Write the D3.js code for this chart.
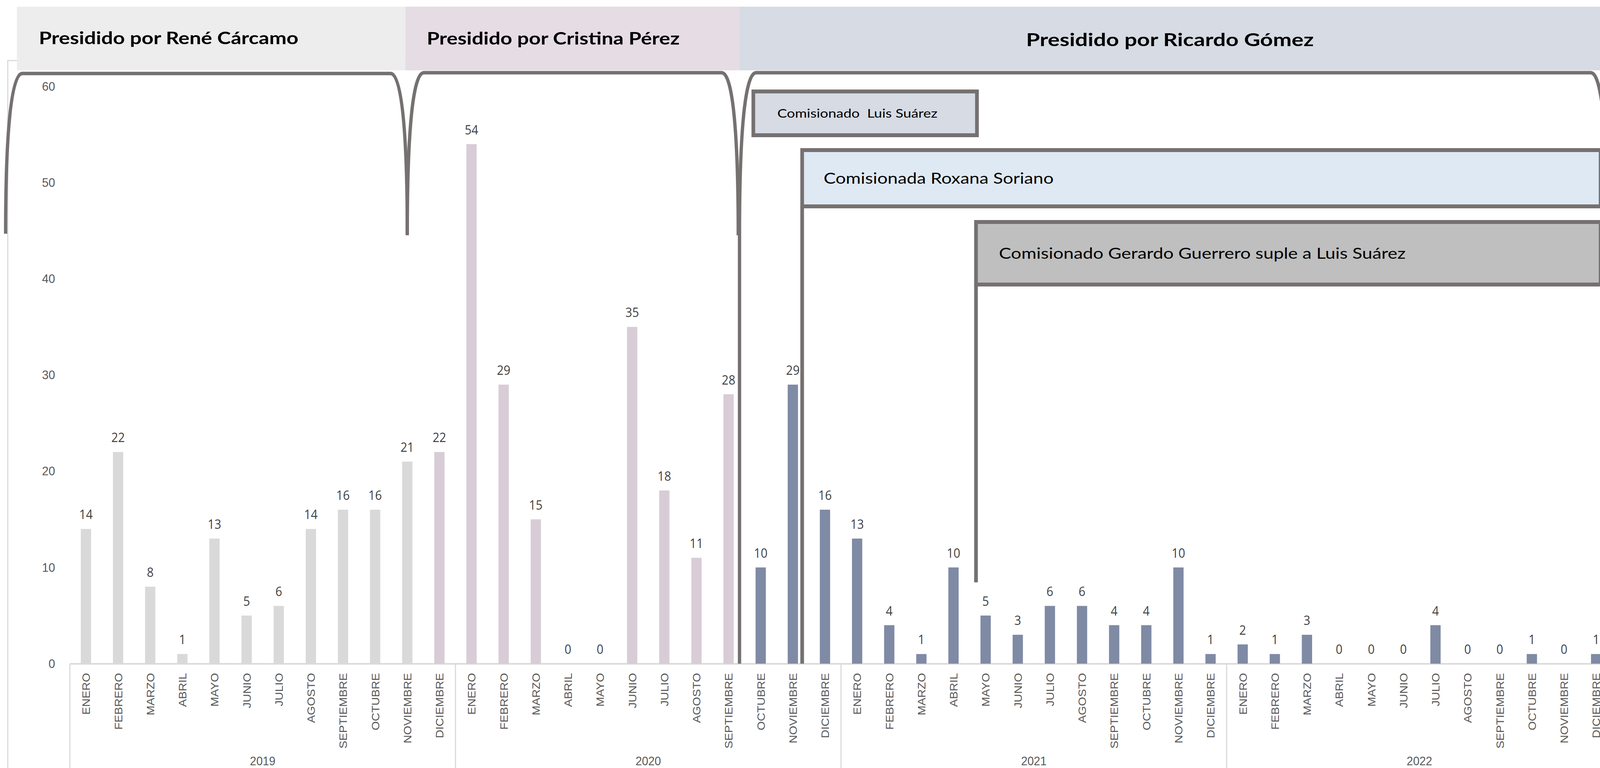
<!DOCTYPE html>
<html>
<head>
<meta charset="utf-8">
<script src="https://cdn.jsdelivr.net/npm/d3@7"></script>
<style>
  html, body { margin: 0; padding: 0; background: #fff; overflow: hidden; }
  svg { display: block; }
</style>
</head>
<body>
<div id="chart"></div>
<script>
// datos
const months = ['ENERO', 'FEBRERO', 'MARZO', 'ABRIL', 'MAYO', 'JUNIO', 'JULIO', 'AGOSTO', 'SEPTIEMBRE', 'OCTUBRE', 'NOVIEMBRE', 'DICIEMBRE'];
const years = ['2019', '2020', '2021', '2022'];
const values2019 = [14, 22, 8, 1, 13, 5, 6, 14, 16, 16, 21, 22];
const values2020 = [54, 29, 15, 0, 0, 35, 18, 11, 28, 10, 29, 16];
const values2021 = [13, 4, 1, 10, 5, 3, 6, 6, 4, 4, 10, 1];
const values2022 = [2, 1, 3, 0, 0, 0, 4, 0, 0, 1, 0, 1];
const yTicks = [0, 10, 20, 30, 40, 50, 60];
const presidents = ['Presidido por René Cárcamo', 'Presidido por Cristina Pérez', 'Presidido por Ricardo Gómez'];
// first month index (0 = enero 2019) of each presidency's bar colour
const presidentStart = [0, 11, 21];
const commissioners = ['Comisionado  Luis Suárez', 'Comisionada Roxana Soriano', 'Comisionado Gerardo Guerrero suple a Luis Suárez'];

// drawing is done on a 4327x1965 canvas and stretched to the window
const W = 4327, H = 1965;
const barColors = ['#d9d9d9', '#d8ccd6', '#7f8aa4'];
const bandColors = ['#ededed', '#e6dce4', '#d6dbe4'];
const boxColors = ['#d6dbe4', '#dfe9f4', '#bfbfbf'];
const darkLine = '#767171';

const allValues = [values2019, values2020, values2021, values2022];
const data = [];
allValues.forEach(function (arr, yi) {
  arr.forEach(function (v, mi) {
    const idx = yi * 12 + mi;
    let p = 0;
    presidentStart.forEach(function (s, k) { if (idx >= s) p = k; });
    data.push({ idx: idx, month: months[mi], year: years[yi], value: v, period: p });
  });
});

const svg = d3.select('#chart').append('svg')
  .attr('viewBox', '0 0 ' + W + ' ' + H)
  .attr('preserveAspectRatio', 'none')
  .style('width', '100vw')
  .style('height', '100vh');

const x = d3.scaleBand()
  .domain(d3.range(data.length))
  .range([189, 4360])
  .paddingInner(0.68)
  .paddingOuter(0.34);

const y = d3.scaleLinear()
  .domain([0, 60])
  .range([1698, 221]);

// position (fractional month index) -> pixel
const step = x.step();
const at = function (i) {
  return x(0) + x.bandwidth() / 2 + i * step;
};

// chart area border
svg.append('path')
  .attr('d', 'M21,' + H + 'V155H' + W)
  .attr('fill', 'none')
  .attr('stroke', '#d9d9d9')
  .attr('stroke-width', 3);

// y axis
const yAxis = svg.append('g')
  .attr('transform', 'translate(189,0)')
  .call(d3.axisLeft(y).tickValues(yTicks).tickSize(0).tickPadding(40));
yAxis.select('.domain').remove();
yAxis.selectAll('text')
  .attr('font-family', 'Liberation Sans, Arial, sans-serif')
  .attr('font-size', 32)
  .attr('fill', '#595959');

// x axis
const xAxis = svg.append('g')
  .attr('transform', 'translate(0,' + y(0) + ')')
  .call(d3.axisBottom(x).tickSize(0).tickFormat(function (i) { return data[i].month; }));
xAxis.select('.domain')
  .attr('stroke', '#d9d9d9')
  .attr('stroke-width', 4);
xAxis.selectAll('text')
  .attr('transform', 'rotate(-90)')
  .attr('x', -24)
  .attr('y', 0)
  .attr('dy', '0.36em')
  .attr('text-anchor', 'end')
  .attr('font-family', 'Liberation Sans, Arial, sans-serif')
  .attr('font-size', 30)
  .attr('fill', '#595959');

// year separators
svg.append('g').selectAll('line')
  .data(d3.range(years.length + 1))
  .enter()
  .append('line')
  .attr('x1', function (k) { return at(k * 12 - 0.5); })
  .attr('x2', function (k) { return at(k * 12 - 0.5); })
  .attr('y1', y(0))
  .attr('y2', H)
  .attr('stroke', '#d9d9d9')
  .attr('stroke-width', 3);

// year labels
svg.append('g').selectAll('text')
  .data(years)
  .enter()
  .append('text')
  .attr('x', function (d, k) { return at(k * 12 + 5.5); })
  .attr('y', 1958)
  .attr('text-anchor', 'middle')
  .attr('font-family', 'Liberation Sans, Arial, sans-serif')
  .attr('font-size', 31)
  .attr('fill', '#595959')
  .text(function (d) { return d; });

// bars
svg.append('g').selectAll('rect')
  .data(data)
  .enter()
  .append('rect')
  .attr('x', function (d) { return x(d.idx); })
  .attr('y', function (d) { return y(d.value); })
  .attr('width', x.bandwidth())
  .attr('height', function (d) { return y(0) - y(d.value); })
  .attr('fill', function (d) { return barColors[d.period]; });

// value labels
svg.append('g').selectAll('text')
  .data(data)
  .enter()
  .append('text')
  .attr('x', function (d) { return x(d.idx) + x.bandwidth() / 2; })
  .attr('y', function (d) { return y(d.value) - 25; })
  .attr('text-anchor', 'middle')
  .attr('font-family', 'Open Sans, Liberation Sans, sans-serif')
  .attr('font-size', 32)
  .attr('fill', '#404040')
  .text(function (d) { return d.value; });

// header bands
const bandEdges = [at(-2.15), at(9.94), at(20.34), W + 10];
const header = svg.append('g');
header.selectAll('rect')
  .data(presidents)
  .enter()
  .append('rect')
  .attr('x', function (d, k) { return bandEdges[k]; })
  .attr('y', 17)
  .attr('width', function (d, k) { return bandEdges[k + 1] - bandEdges[k]; })
  .attr('height', 163)
  .attr('fill', function (d, k) { return bandColors[k]; });
const headerText = [
  { x: 105, y: 113, len: 702, fs: 44 },
  { x: 1154, y: 114, len: 684, fs: 44 },
  { x: 2775, y: 118, len: 778, fs: 46 }
];
header.selectAll('text')
  .data(presidents)
  .enter()
  .append('text')
  .attr('x', function (d, k) { return headerText[k].x; })
  .attr('y', function (d, k) { return headerText[k].y; })
  .attr('textLength', function (d, k) { return headerText[k].len; })
  .attr('lengthAdjust', 'spacingAndGlyphs')
  .attr('font-family', 'Lato, Open Sans, sans-serif')
  .attr('font-weight', 'bold')
  .attr('font-size', function (d, k) { return headerText[k].fs; })
  .attr('fill', '#000')
  .text(function (d) { return d; });

// brackets over each presidency
const bracket = function (x0, x1, yTop, yBot, legTo) {
  const p = d3.path();
  p.moveTo(x0, legTo || yBot);
  p.lineTo(x0, yBot);
  p.bezierCurveTo(x0, yTop + 150, x0 + 15, yTop, x0 + 45, yTop);
  p.lineTo(x1 - 45, yTop);
  p.bezierCurveTo(x1 - 15, yTop, x1, yTop + 150, x1, yBot);
  return p.toString();
};
const brackets = [
  bracket(at(-2.5), at(10), 188, 598),
  bracket(at(10), at(20.3), 186, 602),
  bracket(at(20.34), at(47.35), 186, 600, y(0))
];
svg.append('g').selectAll('path')
  .data(brackets)
  .enter()
  .append('path')
  .attr('d', function (d) { return d; })
  .attr('fill', 'none')
  .attr('stroke', darkLine)
  .attr('stroke-width', 9);

// commissioner boxes
const boxes = [
  { x0: at(20.77), x1: at(27.73), y0: 234, y1: 346, leg: null, tx: 65, fs: 31, len: 433 },
  { x0: at(22.29), x1: at(47.14), y0: 384, y1: 528, leg: y(0), tx: 58, fs: 38, len: 622 },
  { x0: at(27.7), x1: at(47.14), y0: 568, y1: 728, leg: 1490, tx: 62, fs: 38, len: 1100 }
];
const boxG = svg.append('g').selectAll('g')
  .data(boxes)
  .enter()
  .append('g');
boxG.append('rect')
  .attr('x', function (d) { return d.x0; })
  .attr('y', function (d) { return d.y0; })
  .attr('width', function (d) { return d.x1 - d.x0; })
  .attr('height', function (d) { return d.y1 - d.y0; })
  .attr('fill', function (d, k) { return boxColors[k]; })
  .attr('stroke', darkLine)
  .attr('stroke-width', 10);
boxG.filter(function (d) { return d.leg !== null; })
  .append('line')
  .attr('x1', function (d) { return d.x0; })
  .attr('x2', function (d) { return d.x0; })
  .attr('y1', function (d) { return d.y1; })
  .attr('y2', function (d) { return d.leg; })
  .attr('stroke', darkLine)
  .attr('stroke-width', 10);
boxG.append('text')
  .attr('x', function (d) { return d.x0 + d.tx; })
  .attr('y', function (d) { return (d.y0 + d.y1) / 2 + d.fs * 0.36; })
  .attr('textLength', function (d) { return d.len; })
  .attr('lengthAdjust', 'spacingAndGlyphs')
  .attr('font-family', 'Lato, Open Sans, sans-serif')
  .attr('font-size', function (d) { return d.fs; })
  .attr('fill', '#000')
  .style('white-space', 'pre')
  .text(function (d, k) { return commissioners[k]; });
</script>
</body>
</html>
